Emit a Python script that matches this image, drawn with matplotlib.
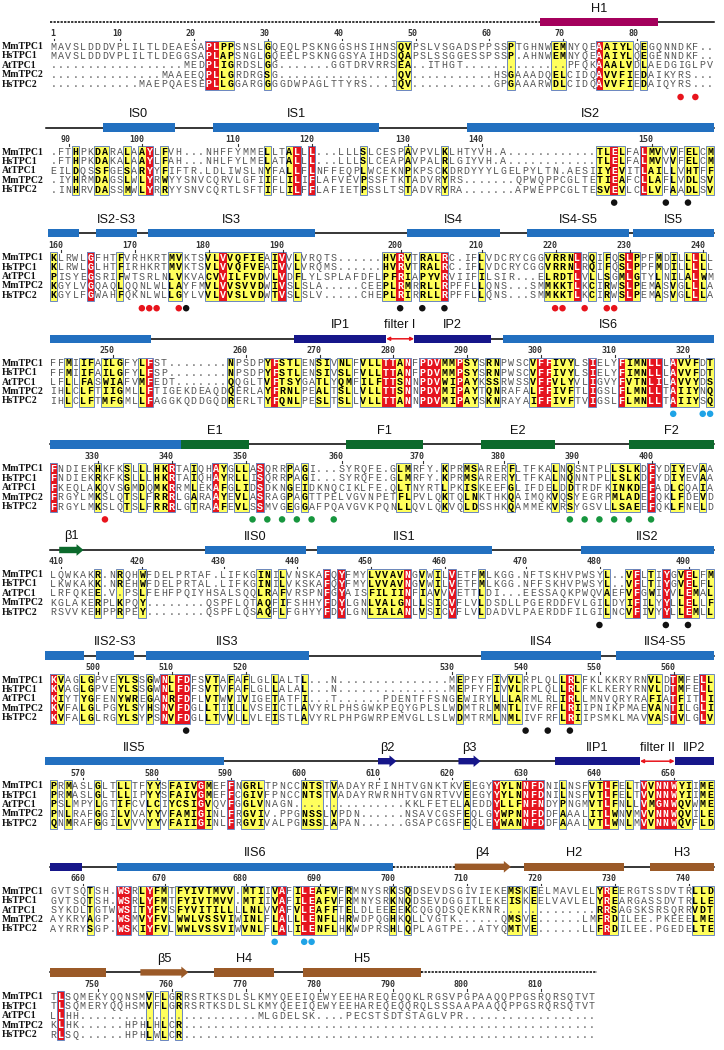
import matplotlib
matplotlib.use("Agg")
import matplotlib.pyplot as plt
from matplotlib.patches import Rectangle, Polygon

names = ["MmTPC1", "HsTPC1", "AtTPC1", "MmTPC2", "HsTPC2"]

# aligned sequences, one list per block (rows follow names)
blk01 = [
    "MAVSLDDDVPLILTLDEAESAPLPPSNSLGQEQLPSKNGGSHSIHNSQVPSLVSGADSPPSSPTGHNWEMNYQEAAIYLQEGQNNDKF..",
    "MAVSLDDDVPLILTLDEGGSAPLAPSNGLGQEELPSKNGGSYAIHDSQAPSLSSGGESSPSSP.AHNWEMNYQEAAIYLQEGENNDKF..",
    "." * 18 + "MEDPLIGRDSLGG" + "." * 7 + "GGTDRVRRSEA" + ".." + "ITHGT" + "." * 14 + "PFQKAAALVDLAEDGIGLPV",
    "." * 15 + "MAAEEQPLLGRDRGSG" + "." * 16 + "QV" + "." * 11 + "HSGAAADQELCIDQAVVFIEDAIKYRS...",
    "." * 12 + "MAEPQAESEPLLGGARGGGGDWPAGLTTYRS" + "..." + "IQV" + "." * 11 + "GPGAAARWDLCIDQAVVFIEDAIQYRS...",
]
blk02 = [
    ".FTHPKDARALAAYLFVH...NHFFYMMELLTALLL...LLLSLCESPAVPVLKLHTYVH.A" + "." * 12 + "TLELFALMVVVFELCM",
    ".FTHPKDAKALAAYLFAH...NHLFYLMELATALLL...LLLSLCEAPAVPALRLGIYVH.A" + "." * 12 + "TLELFALMVVVFELCM",
    "EILDQSSFGESARYYFIFTR.LDLIWSLNYFALLFLNFFEQPLWCEKNPKPSCKDRDYYYLGELPYLTN.AESIIYEVITLAILLVHTFF",
    ".IYHRMDAGSLWLYRWYYSNVCQRVLGFIIFLILIFLAFVEVPSSFTKTADVRYRS" + "." * 7 + "QPWQPPCGLTETIEAFCLLAFLVDLSV",
    ".INHRVDASSMWLYRRYYSNVCQRTLSFTIFLILFFLAFIETPSSLTSTADVRYRA" + "." * 7 + "APWEPPCGLTESVEVLCLLVFAADLSV",
]
blk03 = [
    "KLRWLGFHTFVRHKRTMVKTSVLVVQFIEAIVVLVRQTS......HVRVTRALRC.IFLVDCRYCGGVRRNLRQIFQSLPPFMDILLLLL",
    "KLRWLGLHTFIRHKRTMVKTSVLVVQFVEAIVVLVRQMS......HVRVTRALRC.IFLVDCRYCGGVRRNLRQIFQSLPPFMDILLLLL",
    "PISYEGSRIFWTSRLNLVKVACVVILFVDVLVDFLYLSPLAFDFLPFRIAPYVRVIIFILSIR...ELRDTLVLLSGMLGTYLNILALWM",
    "KGYLVGQAQLQQNLWLLAYFMVLVVSVVDWIVSLSLA.....CEEPLRMRRLLRPFFLLQNS...SMMKKTLKCIRWSLPEMASVGLLLA",
    "KGYLFGWAHFQKNLWLLGYLVVLVVSLVDWTVSLSLV.....CHEPLRIRRLLRPFFLLQNS...SMMKKTLKCIRWSLPEMASVGLLLA",
]
blk04 = [
    "FFMIIFAILGFYLFST" + "." * 8 + "NPSDPYFSTLENSIVNLFVLLTTANFPDVMMPSYSRNPWSCVFFIVYLSIELYFIMNLLLAVVFDT",
    "FFMIIFAILGFYLFSP" + "." * 8 + "NPSDPYFSTLENSIVSLFVLLTTANFPDVMMPSYSRNPWSCVFFIVYLSIELYFIMNLLLAVVFDT",
    "LFLLFASWIAFVMFEDT" + "." * 7 + "QQGLTVFTSYGATLYQMFILFTTSNNPDVWIPAYKSSRWSSVFFVLYVLIGVYFVTNLILAVVYDS",
    "IHLCLFTIIGMLLFTIGEKDEAQDQERLAYFRNLPEALTSLLVLLTTSNNPDVMIPAYTQNRAFALFFIVFTLIGSLFLMNLLTAIIYNQ",
    "IHLCLFTMFGMLLFAGGKQDDGQDRERLTYFQNLPESLTSLLVLLTTANNPDVMIPAYSKNRAYAIFFIVFTVIGSLFLMNLLTAIIYSQ",
]
blk05 = [
    "FNDIEKHKFKSLLLHKRTAIQHAYGLLASQRRPAGI...SYRQFE.GLMRFY.KPRMSARERFLTFKALNQSNTPLLSLKDFYDIYEVAA",
    "FNDIEKRKFKSLLLHKRTAIQHAYRLLISQRRPAGI...SYRQFE.GLMRFY.KPRMSARERYLTFKALNQNNTPLLSLKDFYDIYEVAA",
    "FKEQLAKQVSGMDQMKRRMLEKAFGLIDSDKNGEIDKNQCIKLFE.QLTNYRTLPKISKEEFGLIFDELDDTRDFKINKDEFADLCQAIA",
    "FRGYLMKSLQTSLFRRRLGARAAYEVLASRAGPAGTTPELVGVNPETFLPVLQKTQLNKTHKQAIMQKVQSYEGRPMLADEFQKLFDEVD",
    "FRGYLMKSLQTSLFRRRLGTRAAFEVLSSMVGEGGAFPQAVGVKPQNLLQVLQKVQLDSSHKQAMMEKVRSYGSVLLSAEEFQKLFNELD",
]
blk06 = [
    "LQWKAKR.NRQHWFDELPRTAF.LIFKGINILVNSKAFQYFMYLVVAVNGVWILVETFMLKGG.NFTSKHVPWSYL..VFLTIYGVELFM",
    "LKWKAKK.NREHWFDELPRTAL.LIFKGINILVKSKAFQYFMYLVVAVNGVWILVETFMLKGG.NFFSKHVPWSYL..VFLTIYGVELFL",
    "LRFQKEE.V.PSLFEHFPQIYHSALSQQLRAFVRSPNFGYAISFILIINFIAVVVETTLDI...EESSAQKPWQVAEFVFGWIYVLEMAL",
    "KGLAKERPLKPQY" + "." * 8 + "QSPFLQTAQFIFSHHYFDYLGNLVALGNLLSICVFLVLDSDLLPGERDDFVLGILDYIFILYYLLELLF",
    "RSVVKEHPPRPEY" + "." * 8 + "QSPFLQSAQFLFGHYYFDYLGNLIALANLVSICVFLVLDADVLPAERDDFILGILNCVFIVYYLLEMLL",
]
blk07 = [
    "KVAGLGPVEYLSSGWNLFDFSVTAFAFLGLLALTL...N" + "." * 15 + "MEPFYFIVVLRPLQLLRLFKLKKRYRNVLDTMFELL",
    "KVAGLGPVEYLSSGWNLFDFSVTVFAFLGLLALAL...N" + "." * 15 + "MEPFYFIVVLRPLQLLRLFKLKERYRNVLDTMFELL",
    "KIYTYGFENYWREGANRFDFLVTWVIVIGETATFI...T" + "." * 6 + "PDENTFFSNGEWIRYLLLARMLRLIRLLMNVQRYRAFIATFITLI",
    "KVFALGLPGYLSYHSNVFDGLLTIILLVSEICTLAVYRLPHSGWKPEQYGPLSLWDMTRLMNTLIVFRFLRIIPNIKPMAEVANTILGLI",
    "KVFALGLRGYLSYPSNVFDGLLTVVLLVLEISTLAVYRLPHPGWRPEMVGLLSLWDMTRMLNMLIVFRFLRIIPSMKLMAVVASTVLGLV",
]
blk08 = [
    "PRMASLGLTLLTFYYSFAIVGMEFFNGRLTPNCCNTSTVADAYRFINHTVGNKTKVEEGYYYLNNFDNILNSFVTLFELTVVNNWYIIME",
    "PRMASLGLTLLIPYYSFAIVGMEFFCGIVFPNCCNTSTVADAYRWRNHTVGNRTVVEEGYYYLNNFDNILNSFVTLFELTVVNNWYIIME",
    "PSLMPYLGTIFCVLCIYCSIGVQVFGGLVNAGN" + "." * 15 + "KKLFETELAEDDYLLFNFNDYPNGMVTLFNLLVMGNWQVWME",
    "PNLRAFGGILVVAYYVFAMIGINLFRGVIV.PPGNSSLVPDN......NSAVCGSFEQLGYWPNNFDDFAAALITLWNVMVVNNWQVILE",
    "QNMRAFGGILVVVYYVFAIIGINLFRGVIVALPGNSSLAPAN......GSAPCGSFEQLEYWANNFDDFAAALVTLWNLMVVNNWQVFLD",
]
blk09 = [
    "GVTSQTSH.WSRLYFMTFYIVTMVV.MTIIVAFILEAFVFRMNYSRKSQDSEVDSGIVIEKEMSKEELMAVLELYREERGTSSDVTRLLD",
    "GVTSQTSH.WSRLYFMTFYIVTMVV.MTIIVAFILEAFVFRMNYSRKNQDSEVDGGITLEKEISKEELVAVLELYREARGASSDVTRLLE",
    "SYKDLTGTWWSITYFVSFYVITILLLLNLVVAFVLEAFFTELDLEEEEKCQGQDSQEKRNR" + "." * 13 + "RRSAGSKSRSQRRVDT",
    "AYKRYAGP.WSMVYFVLWWLVSSVIWINLFLALLLENFLHRWDPQGHKQLLVGTK" + "." * 6 + "QMSVE" + "." * 6 + "LMFRDILEE.PKEEELME",
    "AYRRYSGP.WSKIYFVLWWLVSSVIWVNLFLALILENFLHKWDPRSHLQPLAGTPE..ATYQMTVE" + "." * 6 + "LLFRDILEE.PGEDELTE",
]
blk10 = [
    "TLSQMEKYQQNSMVFLGRRSRTKSDLSLKMYQEEIQEWYEEHAREQEQQKLRGSVPGPAAQQPPGSRQRSQTVT",
    "TLSQMERYQQHSMVFLGRRSRTKSDLSLKMYQEEIQEWYEEHAREQEQQRQLSSSAAPAAQQPPGSRQRSQTVT",
    "LLHH" + "." * 24 + "MLGDELSK...." + "PECSTSDTSTAGLVPR" + "." * 18,
    "KLHK" + "." * 6 + "HPHLHLCR" + "." * 56,
    "RLSQ" + "." * 6 + "HPHLWLCR" + "." * 56,
]

# strictly conserved (red) and similar (yellow) columns, 1-based
red01 = [22, 23, 75]
yel01 = [24, 25, 30, 48, 49, 63, 69, 70, 76, 77, 78, 79, 81]
red02 = [14, 34, 36, 77, 81]
yel02 = [4, 7, 8, 11, 13, 16, 30, 33, 43, 49, 54, 75, 76, 78, 82, 83, 85, 87, 88, 90]
red03 = [6, 24, 32, 48, 54, 72, 79, 88]
yel03 = [1, 10, 17, 18, 22, 23, 25, 26, 27, 28, 29, 31, 34, 46, 47, 49, 51, 52, 53, 59,
         68, 69, 70, 71, 74, 76, 78, 80, 83, 85, 87, 89]
red04 = [14, 31, 46, 47, 49, 51, 52, 53, 56, 67, 68, 74, 78, 82, 83, 85]
yel04 = [3, 5, 6, 8, 9, 10, 13, 25, 30, 32, 33, 34, 37, 38, 40, 41, 43, 44, 45, 48, 54, 55,
         57, 58, 60, 61, 66, 69, 70, 71, 79, 80, 81, 86, 87, 88, 90]
red05 = [1, 17, 23, 29, 82]
yel05 = [7, 11, 13, 15, 16, 20, 24, 26, 27, 33, 35, 48, 49, 54, 57, 58, 63, 69, 71,
         77, 78, 79, 80, 85, 86, 89]
red06 = [38, 40, 49, 55, 80, 84, 87]
yel06 = [7, 10, 13, 29, 30, 32, 44, 45, 46, 47, 48, 51, 53, 59, 76, 79, 82, 86, 88, 90]
red07 = [1, 16, 18, 19, 71, 85, 89]
yel07 = [2, 5, 6, 10, 11, 12, 14, 17, 22, 23, 25, 27, 31, 35, 56, 61, 63, 64, 70, 72,
         82, 83, 86, 90]
red08 = [21, 25, 61, 65, 66, 67, 76, 81, 83, 84, 85]
yel08 = [1, 3, 7, 10, 11, 14, 15, 17, 18, 19, 20, 22, 27, 28, 29, 35, 36, 37, 39, 57,
         62, 63, 64, 70, 74, 75, 77, 79, 82, 86, 87, 89, 90]
red09 = [10, 11, 14, 32, 35, 36, 76]
yel09 = [6, 13, 15, 16, 18, 19, 20, 21, 22, 23, 24, 25, 27, 28, 29, 31, 34, 37, 38, 39,
         41, 47, 49, 63, 64, 66, 75, 77, 88, 89, 90]
red10 = [2]
yel10 = [14, 16, 18]

# residue markers under the alignment: (column, kind)
dot01 = [(86, "r"), (88, "r")]
dot02 = [(77, "k"), (84, "k"), (87, "k")]
dot03 = [(13, "r"), (14, "r"), (15, "r"), (18, "r"), (19, "k"), (48, "k"), (51, "k"),
         (54, "k"), (69, "r"), (70, "r"), (73, "r"), (76, "r"), (77, "r")]
dot04 = [(85, "c"), (89, "c"), (90, "c")]
dot05 = [(8, "r"), (28, "g"), (30, "g"), (32, "g"), (34, "g"), (36, "g"), (39, "g"),
         (71, "g"), (73, "g"), (75, "g"), (77, "g"), (79, "g"), (82, "g")]
dot06 = [(75, "k"), (84, "k"), (87, "k")]
dot07 = [(19, "k"), (65, "k"), (68, "k"), (71, "k")]
dot08 = []
dot09 = [(31, "c"), (35, "c"), (36, "c")]
dot10 = []

# secondary structure: (shape, start, end[, class, label]) in column units
ss01 = [("dash", 0, 66.4), ("line", 82.5, 90), ("box", 66.4, 82.5, "h1", "H1")]
ss02 = [("line", -0.5, 90), ("box", 7.2, 17.0, "tm", "IS0"), ("box", 22.2, 44.7, "tm", "IS1"),
        ("box", 56.5, 90, "tm", "IS2")]
ss03 = [("line", 0, 90), ("box", -0.2, 4.0, "tm", ""), ("box", 6.3, 11.8, "tm", "IS2-S3"),
        ("box", 13.4, 35.9, "tm", "IS3"), ("box", 48.4, 61.0, "tm", "IS4"),
        ("box", 64.7, 78.5, "tm", "IS4-S5"), ("box", 79.0, 90, "tm", "IS5")]
ss04 = [("line", 13.8, 33.1), ("line", 59.8, 61.5), ("box", 0, 13.8, "tm", ""),
        ("box", 33.1, 45.6, "pore", "IP1"), ("filter", 45.6, 49.4, "sf", "filter I"),
        ("box", 49.4, 59.8, "pore", "IP2"), ("box", 61.5, 90, "tm", "IS6")]
ss05 = [("line", 0, 90), ("box", 0, 17.8, "tm", ""), ("box", 17.8, 27.0, "ef", "E1"),
        ("box", 40.2, 50.6, "ef", "F1"), ("box", 58.4, 68.5, "ef", "E2"),
        ("box", 78.5, 90, "ef", "F2")]
ss06 = [("line", 0, 90), ("arrow", 1.3, 4.6, "ef", "β1"), ("box", 21.1, 34.7, "tm", "IIS0"),
        ("box", 36.3, 59.9, "tm", "IIS1"), ("box", 72.0, 90, "tm", "IIS2")]
ss07 = [("line", -0.5, 90), ("box", -0.6, 4.6, "tm", ""), ("box", 6.3, 11.4, "tm", "IIS2-S3"),
        ("box", 13.1, 35.1, "tm", "IIS3"), ("box", 58.5, 74.7, "tm", "IIS4"),
        ("box", 76.7, 90, "tm", "IIS4-S5")]
ss08 = [("line", 23.6, 68.5), ("box", -0.6, 23.6, "tm", "IIS5"), ("arrow", 44.5, 47.0, "pore", "β2"),
        ("arrow", 55.4, 58.4, "pore", "β3"), ("box", 68.5, 80.0, "pore", "IIP1"),
        ("filter", 80.0, 84.7, "sf", "filter II"), ("box", 84.7, 90, "pore", "IIP2")]
ss09 = [("line", 0, 46.5), ("dash", 46.5, 54.9), ("line", 54.9, 90), ("box", 0, 4.4, "pore", ""),
        ("box", 9.1, 46.5, "tm", "IIS6"), ("arrow", 54.9, 62.5, "ctd", "β4"),
        ("box", 64.3, 77.8, "ctd", "H2"), ("box", 81.3, 90, "ctd", "H3")]
ss10 = [("line", 0, 50.3), ("dash", 50.3, 74.2), ("box", 0, 7.7, "ctd", ""),
        ("arrow", 12.3, 18.8, "ctd", "β5"), ("box", 22.3, 30.4, "ctd", "H4"),
        ("box", 34.4, 50.3, "ctd", "H5")]

blocks = [blk01, blk02, blk03, blk04, blk05, blk06, blk07, blk08, blk09, blk10]
reds = [red01, red02, red03, red04, red05, red06, red07, red08, red09, red10]
yels = [yel01, yel02, yel03, yel04, yel05, yel06, yel07, yel08, yel09, yel10]
dots = [dot01, dot02, dot03, dot04, dot05, dot06, dot07, dot08, dot09, dot10]
sss = [ss01, ss02, ss03, ss04, ss05, ss06, ss07, ss08, ss09, ss10]

for b, blk in enumerate(blocks):
    lens = [len(s) for s in blk]
    if len(set(lens)) != 1:
        raise ValueError(f"block {b + 1} lengths {lens}")

ss_col = {"tm": "#2270c0", "pore": "#16168a", "ef": "#0c6a2c", "h1": "#a4005c",
          "ctd": "#9b5a28", "sf": "#e8141c"}
dot_col = {"r": "#e8141c", "k": "#111111", "c": "#1fa3e6", "g": "#17963e"}
RED, YEL, FRAME = "#e5141e", "#ffff5c", "#6a86bf"

X0, CW = 49.6, 7.38
DY, RH = 105.6, 9.4


def xe(u):
    return X0 + u * CW


def xc(c):
    return X0 + (c - 0.5) * CW


fig = plt.figure(figsize=(7.24, 10.5), dpi=100)
ax = fig.add_axes([0, 0, 1, 1])
ax.set_xlim(0, 724)
ax.set_ylim(1050, 0)
ax.axis("off")

resno = 0
for b, blk in enumerate(blocks):
    top = b * DY
    ybar = top + 22
    ynum = top + 35.5
    rows = [top + 46.5 + i * RH for i in range(5)]
    ydot = top + 97
    ytop = rows[0] - 5.8
    hbox = 4 * RH + 11.6

    # secondary structure track
    for el in sss[b]:
        kind, a, e = el[0], xe(el[1]), xe(el[2])
        if kind == "line":
            ax.plot([a, e], [ybar, ybar], color="black", lw=1.1, zorder=1)
        elif kind == "dash":
            ax.plot([a, e], [ybar, ybar], color="black", lw=1.1, ls=(0, (1.5, 0.8)), zorder=1)
        elif kind == "box":
            ax.add_patch(Rectangle((a, ybar - 4.2), e - a, 8.4, color=ss_col[el[3]], lw=0, zorder=2))
        elif kind == "arrow":
            hl = min(7, (e - a) * 0.45)
            pts = [(a, ybar - 3.2), (e - hl, ybar - 3.2), (e - hl, ybar - 5.8), (e, ybar),
                   (e - hl, ybar + 5.8), (e - hl, ybar + 3.2), (a, ybar + 3.2)]
            ax.add_patch(Polygon(pts, closed=True, color=ss_col[el[3]], lw=0, zorder=2))
        elif kind == "filter":
            ax.annotate("", xy=(a, ybar), xytext=(e, ybar),
                        arrowprops=dict(arrowstyle="<|-|>", color=ss_col["sf"], lw=1.1,
                                        mutation_scale=5, shrinkA=0, shrinkB=0), zorder=3)
        if len(el) > 4 and el[4]:
            ax.text((a + e) / 2, ybar - 13.5, el[4], ha="center", va="center", fontsize=9.2,
                    family=["Liberation Sans", "DejaVu Sans"], color="#111111")

    # highlighted columns
    rset, yset = set(reds[b]), set(yels[b])
    for c in rset:
        ax.add_patch(Rectangle((xe(c - 1), ytop), CW, hbox, color=RED, lw=0, zorder=1))
    for c in yset:
        ax.add_patch(Rectangle((xe(c - 1), ytop), CW, hbox, color=YEL, lw=0, zorder=1))
    cols = sorted(rset | yset)
    runs = []
    for c in cols:
        if runs and c == runs[-1][1] + 1:
            runs[-1][1] = c
        else:
            runs.append([c, c])
    for a, e in runs:
        ax.add_patch(Rectangle((xe(a - 1), ytop), (e - a + 1) * CW, hbox, fill=False,
                               ec=FRAME, lw=0.7, zorder=2))

    # residue numbering from the first sequence
    for c, ch in enumerate(blk[0], 1):
        if ch == ".":
            continue
        resno += 1
        if resno == 1 or resno % 10 == 0:
            lab = str(resno)
            x = xc(c) + 2.4
            ax.text(x, ynum - 1.5, lab, ha="right", va="center", fontsize=6, weight="bold",
                    family="DejaVu Sans Mono", color="#333333")
            ax.plot([xc(c) + 0.6, xc(c) + 0.6], [ynum + 3.2, ynum + 4.8], color="#333333",
                    lw=0.8, zorder=3)

    # names and residues
    for i, s in enumerate(blk):
        ax.text(2, rows[i], names[i], ha="left", va="center", fontsize=7, weight="bold",
                family="Liberation Serif", color="#111111")
        for c, ch in enumerate(s, 1):
            if c in rset and ch != ".":
                kw = dict(color="white", weight="bold")
            elif c in yset and ch != ".":
                kw = dict(color="black", weight="bold")
            else:
                kw = dict(color="#555555", weight="normal")
            ax.text(xc(c), rows[i], ch, ha="center", va="center", fontsize=7.2,
                    family="Liberation Mono", zorder=3, **kw)

    # markers
    if dots[b]:
        ax.scatter([xc(c) for c, k in dots[b]], [ydot] * len(dots[b]),
                   s=22, c=[dot_col[k] for c, k in dots[b]], linewidths=0, zorder=4)

fig.savefig("out.png", dpi=100)
